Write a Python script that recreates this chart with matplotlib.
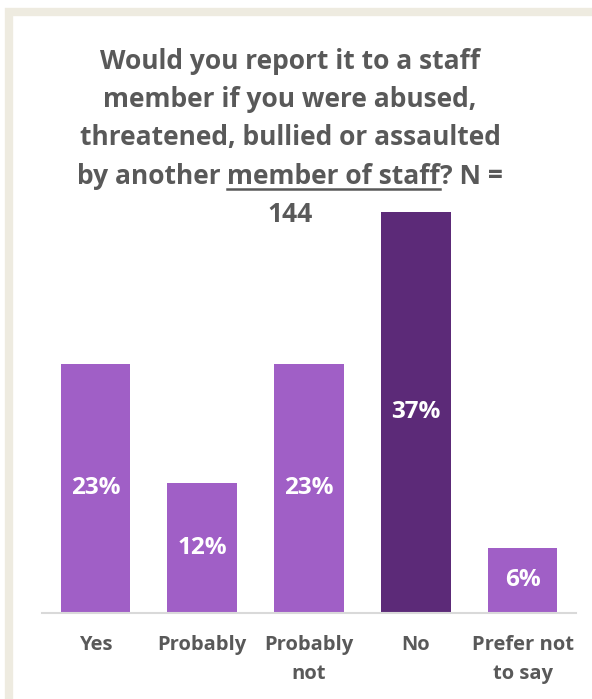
import matplotlib.pyplot as plt
from matplotlib.patches import Rectangle
from matplotlib.lines import Line2D

categories = ["Yes", "Probably", "Probably\nnot", "No", "Prefer not\nto say"]
values = [23, 12, 23, 37, 6]
labels = ["23%", "12%", "23%", "37%", "6%"]
colors = ["#A05FC6", "#A05FC6", "#A05FC6", "#5C2A78", "#A05FC6"]

GREY = "#595959"
FONT = "Open Sans"

W, H = 592, 699
fig = plt.figure(figsize=(W / 100, H / 100), dpi=100)
fig.patch.set_facecolor("white")

# beige frame around the chart area
frame = Rectangle((9 / W, 0 - 0.05), 1.1, 1 - 12 / H + 0.05, transform=fig.transFigure,
                  fill=False, edgecolor="#EEEBE0", linewidth=6, zorder=0)
fig.add_artist(frame)

ax = fig.add_axes([42 / W, (H - 613) / H, 534 / W, 413 / H])
x = range(len(categories))
bars = ax.bar(x, values, width=0.65, color=colors, zorder=2)
for b, lab in zip(bars, labels):
    ax.text(b.get_x() + b.get_width() / 2, b.get_height() / 2, lab,
            ha="center", va="center", color="white", fontsize=17.5,
            fontweight="bold", family=FONT, zorder=3)

ax.set_xlim(-0.5, len(categories) - 0.5)
ax.set_ylim(0, 413 / 10.84)
ax.set_xticks(list(x))
ax.set_xticklabels(categories, fontsize=14.5, fontweight="bold", color=GREY,
                   family=FONT, linespacing=1.6)
ax.tick_params(axis="x", length=0, pad=16)
ax.set_yticks([])
for s in ["top", "right", "left"]:
    ax.spines[s].set_visible(False)
ax.spines["bottom"].set_color("#D9D9D9")
ax.spines["bottom"].set_linewidth(1.5)
ax.patch.set_alpha(0)

# title, one line at a time so part of it can be underlined
cx = 290 / W
tkw = dict(fontsize=19, fontweight="bold", color=GREY, family=FONT, va="baseline")
lines_y = [69, 107, 145, 184, 222]
title_lines = ["Would you report it to a staff",
               "member if you were abused,",
               "threatened, bullied or assaulted"]
for t, yy in zip(title_lines, lines_y[:3]):
    fig.text(cx, 1 - yy / H, t, ha="center", **tkw)
fig.text(cx, 1 - lines_y[4] / H, "144", ha="center", **tkw)

parts = ["by another ", "member of staff", "? N ="]
renderer = fig.canvas.get_renderer()
widths = []
for p in parts:
    tmp = fig.text(0, 0, p, **tkw)
    widths.append(tmp.get_window_extent(renderer).width)
    tmp.remove()
total = sum(widths)
xs = cx * W - total / 2
yb = 1 - lines_y[3] / H
for p, w in zip(parts, widths):
    fig.text(xs / W, yb, p, ha="left", **tkw)
    if p == "member of staff":
        fig.add_artist(Line2D([xs / W, (xs + w) / W], [yb - 5 / H, yb - 5 / H],
                              transform=fig.transFigure, color=GREY, linewidth=1.8))
    xs += w

fig.savefig("out.png", dpi=100)
